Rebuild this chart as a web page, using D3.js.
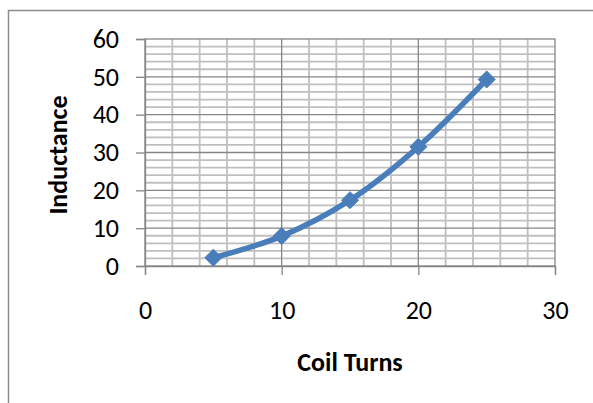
<!DOCTYPE html>
<html>
<head>
<meta charset="utf-8">
<script src="https://cdn.jsdelivr.net/npm/d3@7"></script>
<style>
  html, body { margin: 0; padding: 0; background: #fff; }
  svg { display: block; font-family: Calibri, Carlito, Lato, sans-serif; }
</style>
</head>
<body>
<div id="chart"></div>
<script>
// data
const coilTurns = [5, 10, 15, 20, 25];
const inductance = [2.2, 7.9, 17.4, 31.5, 49.3];
const xTicks = [0, 10, 20, 30];
const yTicks = [0, 10, 20, 30, 40, 50, 60];
const xTitle = "Coil Turns";
const yTitle = "Inductance";

const width = 593, height = 403;
const plot = { left: 145, right: 555, top: 39, bottom: 266 };

const svg = d3.select("#chart").append("svg")
  .attr("width", width)
  .attr("height", height);

// chart frame (only top and left edges show)
svg.append("path")
  .attr("d", `M8.5,${height}V10.5H${width}`)
  .attr("fill", "none")
  .attr("stroke", "#8c8c8c")
  .attr("stroke-width", 1.5);

const x = d3.scaleLinear().domain([0, 30]).range([plot.left, plot.right]);
const y = d3.scaleLinear().domain([0, 60]).range([plot.bottom, plot.top]);

// minor grid every 2
const minorX = d3.range(2, 30, 2).filter(d => d % 10 !== 0);
const minorY = d3.range(2, 60, 2).filter(d => d % 10 !== 0);

const grid = svg.append("g");
grid.selectAll(".mx").data(minorX).join("line")
  .attr("x1", d => x(d)).attr("x2", d => x(d))
  .attr("y1", plot.top).attr("y2", plot.bottom)
  .attr("stroke", "#bfbfbf").attr("stroke-width", 1.8);
grid.selectAll(".my").data(minorY).join("line")
  .attr("y1", d => y(d)).attr("y2", d => y(d))
  .attr("x1", plot.left).attr("x2", plot.right)
  .attr("stroke", "#bfbfbf").attr("stroke-width", 1.8);

// major grid
grid.selectAll(".Mx").data(xTicks.slice(1, -1)).join("line")
  .attr("x1", d => x(d)).attr("x2", d => x(d))
  .attr("y1", plot.top).attr("y2", plot.bottom)
  .attr("stroke", "#868686").attr("stroke-width", 1.3);
grid.selectAll(".My").data(yTicks.slice(1, -1)).join("line")
  .attr("y1", d => y(d)).attr("y2", d => y(d))
  .attr("x1", plot.left).attr("x2", plot.right)
  .attr("stroke", "#868686").attr("stroke-width", 1.3);

// plot border
svg.append("rect")
  .attr("x", plot.left).attr("y", plot.top)
  .attr("width", plot.right - plot.left).attr("height", plot.bottom - plot.top)
  .attr("fill", "none").attr("stroke", "#868686").attr("stroke-width", 1.3);

// axes
const xAxis = svg.append("g")
  .attr("transform", `translate(0,${plot.bottom})`)
  .call(d3.axisBottom(x).tickValues(xTicks).tickSize(9).tickPadding(26));
const yAxis = svg.append("g")
  .attr("transform", `translate(${plot.left},0)`)
  .call(d3.axisLeft(y).tickValues(yTicks).tickSize(9).tickPadding(17));

[xAxis, yAxis].forEach(a => {
  a.attr("font-family", "Calibri, Carlito, Lato, sans-serif").attr("font-size", 26);
  a.select(".domain").attr("stroke", "#868686").attr("stroke-width", 1.3);
  a.selectAll(".tick line").attr("stroke", "#868686").attr("stroke-width", 1.3);
  a.selectAll("text").attr("fill", "#000");
});

// series
const pts = coilTurns.map((d, i) => [d, inductance[i]]);
const line = d3.line()
  .x(d => x(d[0])).y(d => y(d[1]))
  .curve(d3.curveCatmullRom.alpha(0.5));

svg.append("path")
  .datum(pts)
  .attr("d", line)
  .attr("fill", "none")
  .attr("stroke", "#4a7ebb")
  .attr("stroke-width", 5.5)
  .attr("stroke-linejoin", "round");

svg.selectAll(".marker").data(pts).join("path")
  .attr("class", "marker")
  .attr("transform", d => `translate(${x(d[0])},${y(d[1])})`)
  .attr("d", d3.symbol(d3.symbolDiamond2, 185))
  .attr("fill", "#4a7ebb")
  .attr("stroke", "#4a7ebb")
  .attr("stroke-width", 1);

// titles
svg.append("text")
  .attr("x", 350).attr("y", 371)
  .attr("text-anchor", "middle")
  .attr("font-size", 26).attr("font-weight", "bold")
  .text(xTitle);

svg.append("text")
  .attr("transform", "translate(67,155) rotate(-90)")
  .attr("text-anchor", "middle")
  .attr("font-size", 26).attr("font-weight", "bold")
  .text(yTitle);
</script>
</body>
</html>
